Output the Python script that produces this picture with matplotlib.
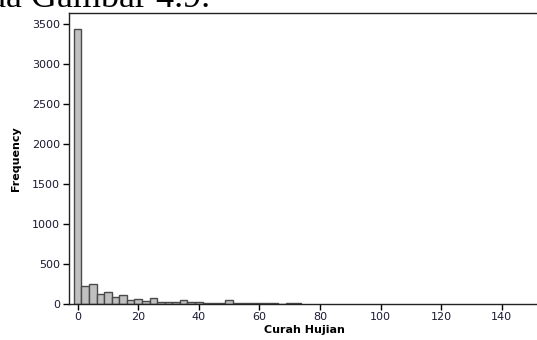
import numpy as np
import matplotlib.pyplot as plt

# bin midpoints (width 2.5) and counts
mids = [0, 2.5, 5, 7.5, 10, 12.5, 15, 17.5, 20, 22.5, 25, 27.5, 30, 32.5, 35,
        37.5, 40, 42.5, 45, 47.5, 50, 52.5, 55, 57.5, 60, 62.5, 65, 67.5, 70, 72.5]
counts = [3430, 222, 246, 128, 146, 90, 106, 50, 66, 38, 78, 24, 24, 22, 44,
          28, 28, 12, 11, 12, 45, 14, 10, 9, 10, 8, 8, 0, 7, 7]
xticks = [0, 20, 40, 60, 80, 100, 120, 140]
yticks = [0, 500, 1000, 1500, 2000, 2500, 3000, 3500]
width = 2.5

fig = plt.figure(figsize=(5.37, 3.40), dpi=100)
ax = fig.add_axes([0.1276, 0.106, 0.88, 0.857])

ax.bar(mids, counts, width=width, color="#c0c0c0", edgecolor="#4a4a4a",
       linewidth=1.0, align="center")

ax.set_xlim(-3, 153)
ax.set_ylim(0, 3640)
ax.set_xticks(xticks)
ax.set_yticks(yticks)
ax.tick_params(direction="out", length=4, width=1, labelsize=8,
               labelcolor="#1a1a33", pad=2)
for s in ax.spines.values():
    s.set_linewidth(1.0)
    s.set_color("#222222")

ax.set_xlabel("Curah Hujian", fontsize=8, fontweight="bold", labelpad=2)
ax.set_ylabel("Frequency", fontsize=8, fontweight="bold", labelpad=8)

fig.text(0.391, 0.979, "da Gambar 4.9.", family="Liberation Serif",
         fontsize=26, ha="right", va="baseline")

fig.savefig("out.png", dpi=100)
